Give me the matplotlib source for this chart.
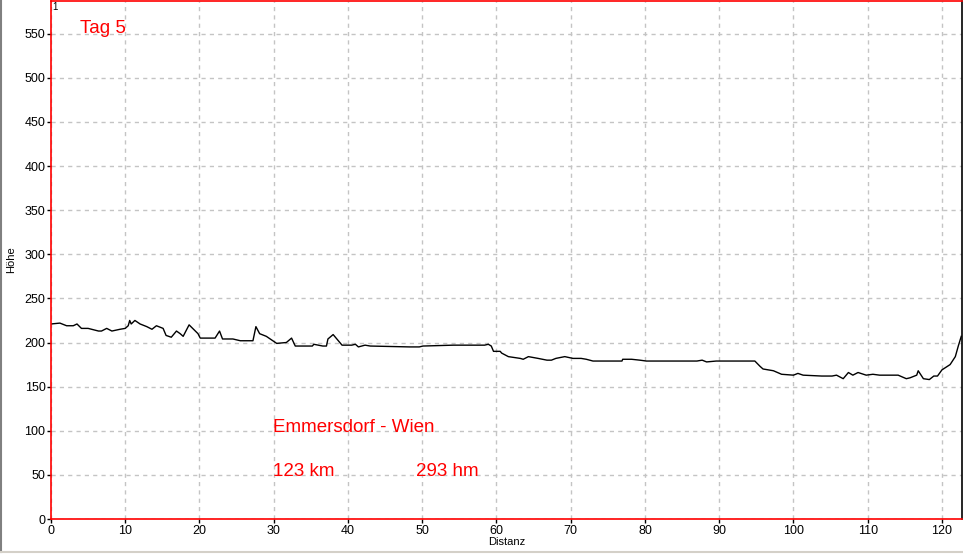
import matplotlib.pyplot as plt
from matplotlib.lines import Line2D

plt.rcParams['font.family'] = ['Liberation Sans', 'DejaVu Sans']

# Höhenprofil Tag 5 (Distanz in km, Höhe in m)
distanz = [0, 1.2, 2.1, 3.0, 3.5, 4.1, 5.0, 6.4, 6.8, 7.5, 8.2, 9.3, 10.0, 10.4, 10.6,
           10.8, 11.3, 12.0, 12.9, 13.6, 14.2, 15.1, 15.5, 16.2, 16.9, 17.4, 17.8, 18.6,
           19.2, 19.8, 20.1, 22.1, 22.7, 23.1, 24.5, 25.5, 27.2, 27.6, 28.1, 29.0, 30.4,
           31.7, 32.4, 32.9, 35.2, 35.4, 36.6, 37.1, 37.3, 38.0, 38.5, 39.2, 40.5, 41.0,
           41.4, 42.3, 43.0, 48.3, 49.6, 50.1, 54.2, 56.0, 58.4, 58.9, 59.3, 59.6, 60.5,
           60.7, 61.6, 63.2, 63.6, 64.3, 65.6, 66.8, 67.4, 68.0, 69.2, 70.3, 71.4, 72.1,
           73.0, 76.9, 77.0, 78.2, 79.3, 80.2, 87.0, 87.7, 88.3, 89.6, 94.8, 95.5, 95.9,
           97.3, 98.4, 100.0, 100.6, 101.3, 103.8, 105.2, 105.8, 106.7, 107.4, 108.0,
           108.7, 109.8, 110.7, 111.6, 114.1, 115.2, 115.7, 116.6, 116.8, 117.5, 118.3,
           118.9, 119.4, 120.0, 121.1, 121.8, 122.2, 122.6]
hoehe = [221, 222, 219, 219, 221, 216, 216, 213, 213, 216, 213, 215, 216, 219, 225,
         221, 225, 221, 218, 215, 219, 216, 208, 206, 213, 210, 207, 220,
         215, 210, 205, 205, 213, 204, 204, 202, 202, 218, 210, 207, 199,
         200, 205, 196, 196, 198, 196, 196, 204, 209, 204, 197, 197, 198,
         195, 197, 196, 195, 195, 196, 197, 197, 197, 198, 196, 190, 190,
         188, 184, 182, 181, 184, 182, 180, 180, 182, 184, 182, 182, 181,
         179, 179, 181, 181, 180, 179, 179, 180, 178, 179, 179, 173, 170,
         168, 164, 163, 165, 163, 162, 162, 163, 159, 166, 163,
         166, 163, 164, 163, 163, 159, 160, 163, 168, 159, 158,
         162, 162, 169, 175, 184, 196, 207]

xticks = list(range(0, 121, 10))
yticks = list(range(0, 551, 50))

fig = plt.figure(figsize=(9.63, 5.54), dpi=100)
ax = fig.add_axes([51 / 963, 35 / 554, 911 / 963, 518 / 554])

ax.plot(distanz, hoehe, color='black', lw=1)

ax.set_xlim(0, 122.7)
ax.set_ylim(0, 587)
ax.set_xticks(xticks)
ax.set_yticks(yticks)
ax.grid(True, color='#c4c4c4', linestyle=(0, (3, 3)), lw=1)
ax.tick_params(labelsize=9, length=3, width=1, pad=1)

ax.spines['left'].set_color('red')
ax.spines['bottom'].set_color('red')
ax.spines['top'].set_color('red')
ax.spines['right'].set_color('black')
for s in ax.spines.values():
    s.set_linewidth(1.2)

ax.set_xlabel('Distanz', fontsize=8, labelpad=0)
ax.set_ylabel('Höhe', fontsize=8, labelpad=6)

ax.text(3.9, 556, 'Tag 5', color='red', fontsize=13.5, va='center')
ax.text(29.9, 104, 'Emmersdorf - Wien', color='red', fontsize=13.5, va='center')
ax.text(29.9, 54, '123 km', color='red', fontsize=13.5, va='center')
ax.text(49.2, 54, '293 hm', color='red', fontsize=13.5, va='center')
ax.text(0.15, 586, '1', color='black', fontsize=7, va='top', ha='left')

# Fensterrand
fig.add_artist(Line2D([1 / 963, 1 / 963], [0.004, 1], color='#808080', lw=1.5))
fig.add_artist(Line2D([0, 1], [2 / 554, 2 / 554], color='#d4d0c8', lw=1.5))

fig.savefig('out.png', dpi=100)
